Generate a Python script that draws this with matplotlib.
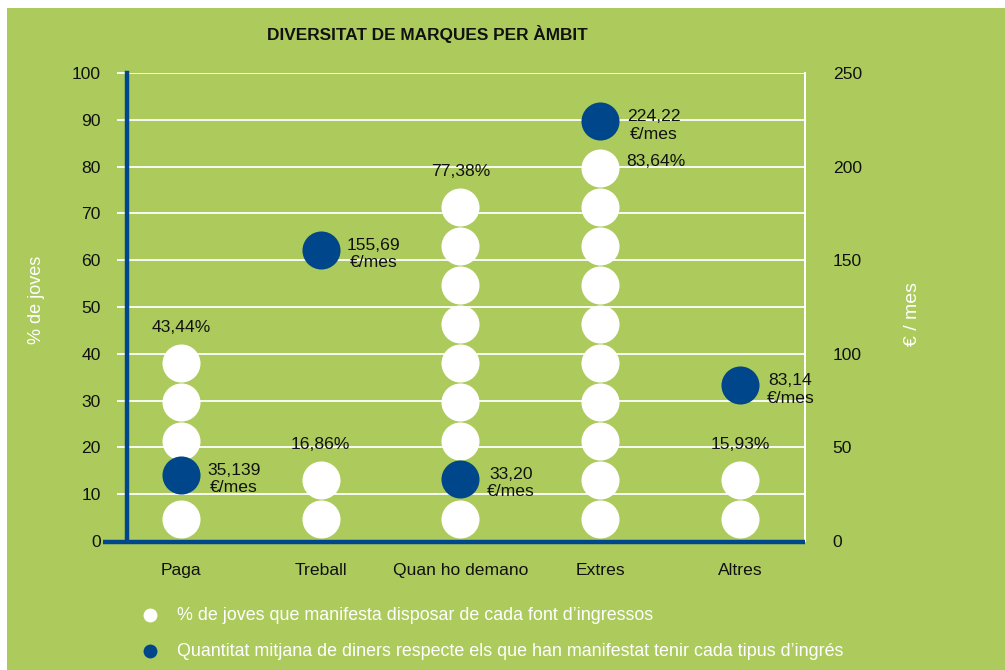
import matplotlib
matplotlib.use("Agg")
import matplotlib.pyplot as plt
from matplotlib.lines import Line2D
from matplotlib.patches import Rectangle

plt.rcParams['font.family'] = ['Liberation Sans', 'DejaVu Sans']

# ---- data ----
categories = ["Paga", "Treball", "Quan ho demano", "Extres", "Altres"]
pct_joves = [43.44, 16.86, 77.38, 83.64, 15.93]
euros_mes = [35.139, 155.69, 33.20, 224.22, 83.14]
pct_labels = ["43,44%", "16,86%", "77,38%", "83,64%", "15,93%"]
euro_labels = ["35,139", "155,69", "33,20", "224,22", "83,14"]
left_ticks = [0, 10, 20, 30, 40, 50, 60, 70, 80, 90, 100]
right_ticks = [0, 50, 100, 150, 200, 250]
title = "DIVERSITAT DE MARQUES PER ÀMBIT"
legend_labels = ["% de joves que manifesta disposar de cada font d\u2019ingressos",
                 "Quantitat mitjana de diners respecte els que han manifestat tenir cada tipus d\u2019ingrés"]

GREEN = '#accb5c'
BLUE = '#00468b'
TXT = '#111111'
FS = 12.6
W, H = 1005, 670

fig = plt.figure(figsize=(W / 100, H / 100), dpi=100, facecolor='white')
fig.patches.append(Rectangle((7 / W, 0), 1, 1 - 8 / H, transform=fig.transFigure,
                             facecolor=GREEN, edgecolor='none', zorder=-10))

ax = fig.add_axes([127 / W, 1 - 541 / H, (805 - 127) / W, (541 - 73) / H])
ax.set_facecolor('none')
ax.set_ylim(0, 100)
xs = list(range(len(categories)))
ax.set_xlim(-0.386, 4.465)

ax2 = ax.twinx()
ax2.set_ylim(0, 250)

# circle stacks
step = 100 / 12.0
off = 4.6
msize = 27.4
for i, (p, e) in enumerate(zip(pct_joves, euros_mes)):
    n = int(round(p / step))
    e_pct = e / 250 * 100
    centers = [off + k * step for k in range(n)]
    for c in centers:
        if abs(c - e_pct) < step * 0.6:
            continue
        ax.plot([i], [c], 'o', ms=msize, color='white', mec='none', zorder=3)
    top = centers[-1]
    if i == 3:
        ax.annotate(pct_labels[i], (i, top), xytext=(19, 5), textcoords='offset points',
                    ha='left', va='center', fontsize=FS, color=TXT, zorder=5)
    else:
        ax.annotate(pct_labels[i], (i, top), xytext=(0, 26), textcoords='offset points',
                    ha='center', va='center', fontsize=FS, color=TXT, zorder=5)
    ax2.plot([i], [e], 'o', ms=msize, color=BLUE, mec='none', zorder=4)
    ax2.annotate(euro_labels[i] + "\n\u20ac/mes", (i, e), xytext=(19, -3),
                 textcoords='offset points', ha='left', va='center', fontsize=FS,
                 color=TXT, multialignment='center', linespacing=1.18, zorder=5)

# axes styling
ax.set_yticks(left_ticks)
ax.set_yticklabels([str(t) for t in left_ticks], fontsize=FS, color=TXT)
ax.grid(axis='y', color='white', lw=1.3, zorder=0)
ax.set_axisbelow(True)
ax.tick_params(axis='y', length=7, width=1.3, color='white', pad=12)
ax.set_xticks(xs)
ax.set_xticklabels(categories, fontsize=FS, color=TXT)
ax.tick_params(axis='x', length=0, pad=16)
ax.spines['top'].set_visible(False)
ax.spines['left'].set_color(BLUE)
ax.spines['left'].set_linewidth(3.2)
ax.spines['right'].set_color('white')
ax.spines['right'].set_linewidth(1.3)
ax.spines['bottom'].set_visible(False)
ax.set_ylabel("% de joves", fontsize=13, color='white')
ax.yaxis.set_label_coords(-0.121, 0.515)

ax2.set_yticks(right_ticks)
ax2.set_yticklabels([str(t) for t in right_ticks], fontsize=FS, color=TXT)
ax2.tick_params(axis='y', length=0, pad=20)
for s in ['top', 'left', 'bottom']:
    ax2.spines[s].set_visible(False)
ax2.spines['right'].set_color('white')
ax2.spines['right'].set_linewidth(1.3)
ax2.set_ylabel("\u20ac / mes", fontsize=14, color='white')
ax2.yaxis.set_label_coords(1.146, 0.485)

# bottom blue baseline extending left
fig.lines.append(Line2D([103 / W, 805 / W], [1 - 542 / H, 1 - 542 / H], transform=fig.transFigure,
                        color=BLUE, lw=3.2, solid_capstyle='butt', zorder=6))

fig.text(427 / W, 1 - 34 / H, title, ha='center', va='center', fontsize=12.4,
         fontweight='bold', color=TXT)

# legend
for k, (lab, col) in enumerate(zip(legend_labels, ['white', BLUE])):
    y = 1 - (615 + 36 * k) / H
    fig.lines.append(Line2D([150 / W], [y], transform=fig.transFigure, marker='o', ms=10,
                            color=col, mec='none', ls='none'))
    fig.text(177 / W, y, lab, ha='left', va='center', fontsize=12.9, color='white')

fig.savefig('out.png', dpi=100, facecolor=fig.get_facecolor())
